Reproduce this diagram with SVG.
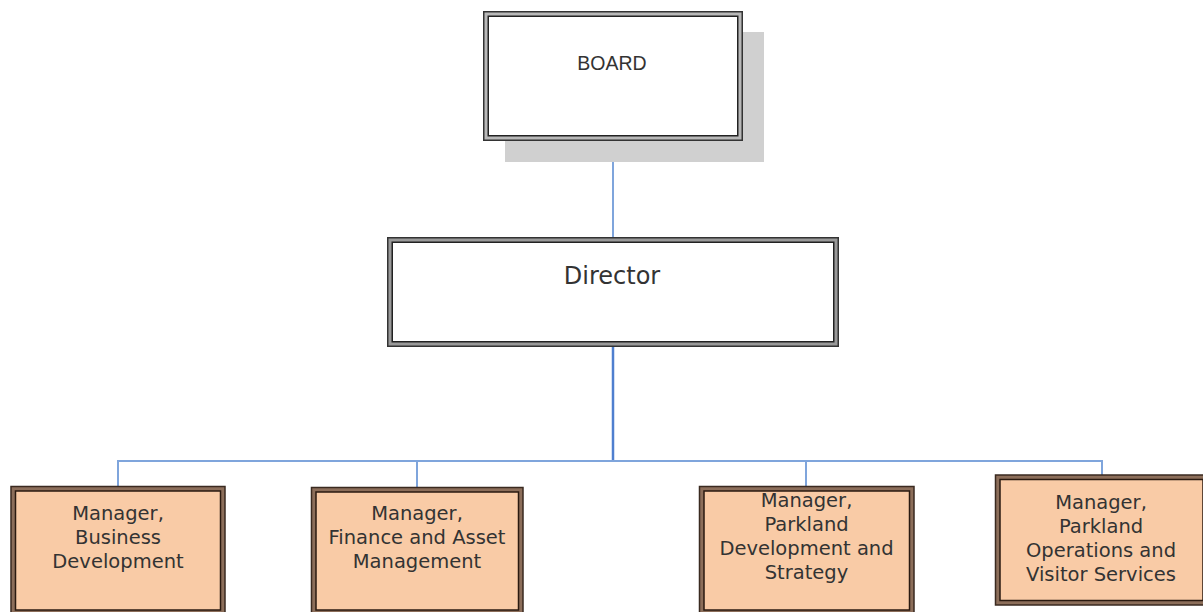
<svg xmlns="http://www.w3.org/2000/svg" width="1203" height="612" viewBox="0 0 1203 612">
<style>
.outer{stroke:#333;stroke-width:1.5}
.inner{stroke:#222;stroke-width:1.5}
.mouter{fill:#8c6e5a;stroke:#3a2a20;stroke-width:1.5}
.minner{fill:#f9cba6;stroke:#2a1a10;stroke-width:1.5}
.mt{font-family:"DejaVu Sans",Verdana,sans-serif;font-size:19.5px;fill:#333;text-anchor:middle}
.conn{fill:none;stroke:#7fa5dc;stroke-width:2}
</style>
<rect width="1203" height="612" fill="#fff"/>
<g id="connectors">
<line class="conn" x1="613" y1="141" x2="613" y2="238" stroke="#8aaee0"/>
<line x1="613" y1="347" x2="613" y2="461" stroke="#4f7fcf" stroke-width="2.5"/>
<line class="conn" x1="117" y1="461" x2="1103" y2="461"/>
<line class="conn" x1="118" y1="460" x2="118" y2="486"/>
<line class="conn" x1="417" y1="460" x2="417" y2="487"/>
<line class="conn" x1="806" y1="460" x2="806" y2="486"/>
<line class="conn" x1="1102" y1="460" x2="1102" y2="475"/>
</g>
<g id="board">
<rect x="505" y="32" width="259" height="130" fill="#d0d0d0"/>
<rect class="outer" x="483.75" y="11.75" width="258.5" height="128.5" fill="#b8b8b8"/>
<rect class="inner" x="488.25" y="16.25" width="249.5" height="119.5" fill="#fff"/>
<text x="612" y="70" font-family="'Liberation Sans',Arial,sans-serif" font-size="19.5" fill="#333" text-anchor="middle">BOARD</text>
</g>
<g id="director">
<rect class="outer" x="387.75" y="237.75" width="450.5" height="108.5" fill="#999"/>
<rect class="inner" x="392.25" y="242.25" width="441.5" height="99.5" fill="#fff"/>
<text x="612" y="284" font-family="'DejaVu Sans',Verdana,sans-serif" font-size="24" fill="#333" text-anchor="middle">Director</text>
</g>
<g id="mgr-business">
<rect class="mouter" x="11" y="486.5" width="214" height="130"/>
<rect class="minner" x="15.5" y="491" width="205" height="119"/>
<text class="mt" x="118" y="520">Manager,</text>
<text class="mt" x="118" y="544">Business</text>
<text class="mt" x="118" y="568">Development</text>
</g>
<g id="mgr-finance">
<rect class="mouter" x="311.5" y="487.5" width="211.5" height="130"/>
<rect class="minner" x="316" y="492" width="202.5" height="118"/>
<text class="mt" x="417" y="520">Manager,</text>
<text class="mt" x="417" y="544">Finance and Asset</text>
<text class="mt" x="417" y="568">Management</text>
</g>
<g id="mgr-parkland-dev">
<rect class="mouter" x="699.5" y="486.5" width="214.5" height="130"/>
<rect class="minner" x="704" y="491" width="205.5" height="119"/>
<text class="mt" x="806.5" y="507">Manager,</text>
<text class="mt" x="806.5" y="531">Parkland</text>
<text class="mt" x="806.5" y="555">Development and</text>
<text class="mt" x="806.5" y="579">Strategy</text>
</g>
<g id="mgr-parkland-ops">
<rect class="mouter" x="995.5" y="475" width="212" height="130"/>
<rect class="minner" x="1000" y="479.5" width="203" height="121"/>
<text class="mt" x="1101" y="509">Manager,</text>
<text class="mt" x="1101" y="533">Parkland</text>
<text class="mt" x="1101" y="557">Operations and</text>
<text class="mt" x="1101" y="581">Visitor Services</text>
</g>
</svg>
